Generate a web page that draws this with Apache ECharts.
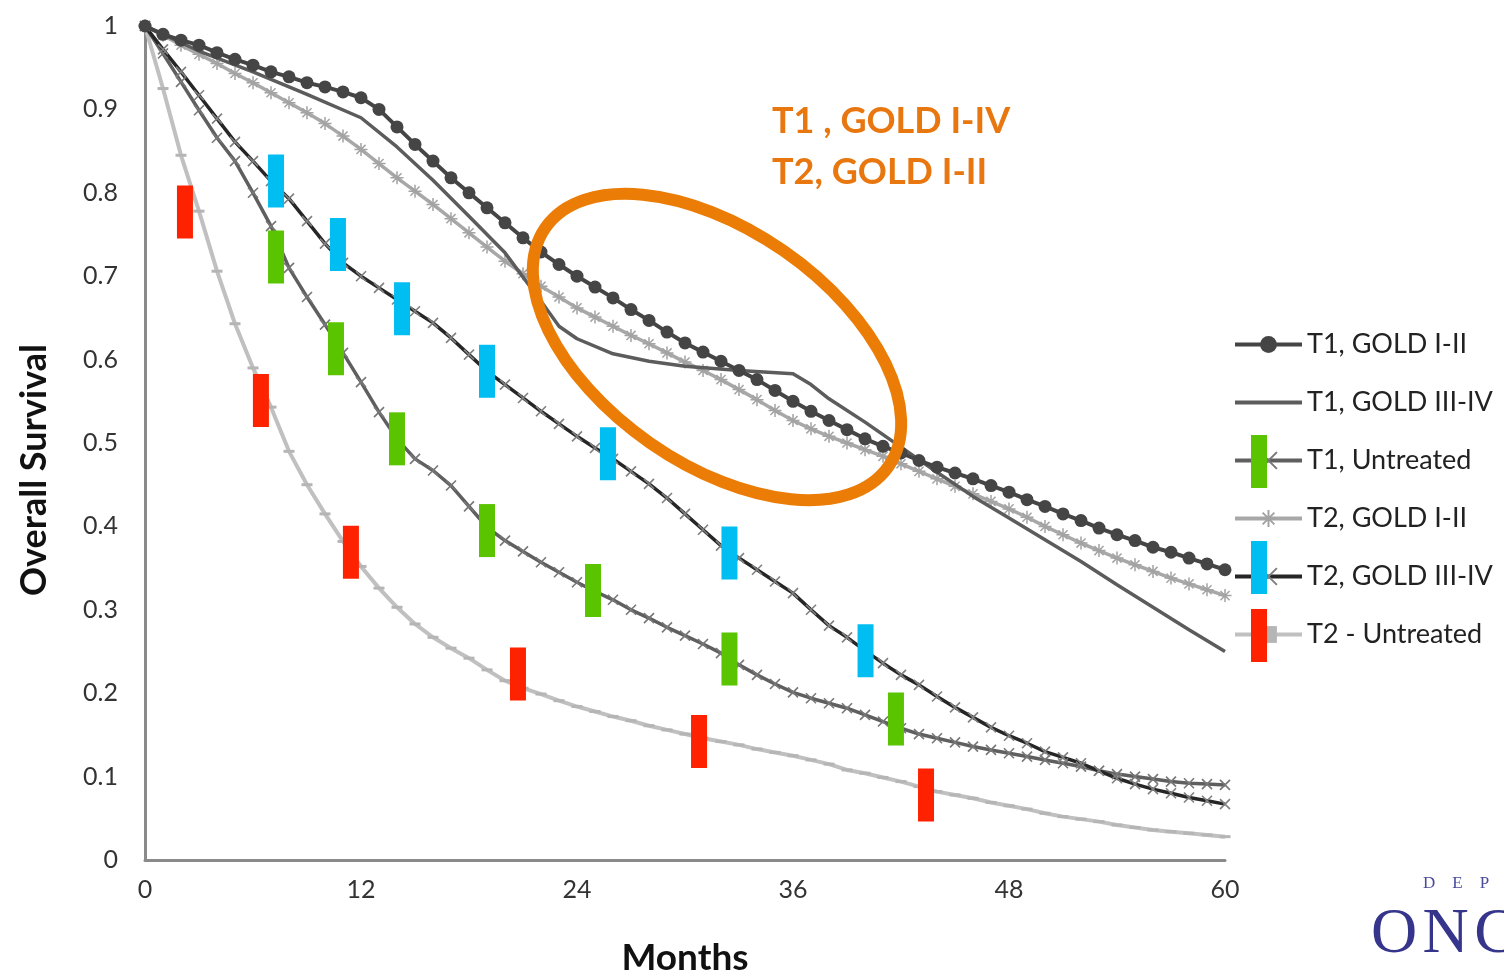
<!DOCTYPE html>
<html><head><meta charset="utf-8">
<script src="https://cdn.jsdelivr.net/npm/echarts@6/dist/echarts.min.js"></script>
<style>html,body{margin:0;padding:0;background:#fff;overflow:hidden}#c{width:1504px;height:971px}</style>
</head><body><div id="c"></div>
<script>
// ---- data ----
const months = [0,1,2,3,4,5,6,7,8,9,10,11,12,13,14,15,16,17,18,19,20,21,22,23,24,25,26,27,28,29,30,31,32,33,34,35,36,37,38,39,40,41,42,43,44,45,46,47,48,49,50,51,52,53,54,55,56,57,58,59,60];
const xTicks = [0,12,24,36,48,60];

const t1Gold12 = [1.000,0.990,0.983,0.977,0.968,0.960,0.953,0.945,0.939,0.932,0.927,0.921,0.914,0.900,0.879,0.858,0.838,0.818,0.800,0.782,0.764,0.746,0.729,0.714,0.700,0.687,0.674,0.660,0.647,0.633,0.620,0.609,0.598,0.587,0.576,0.563,0.550,0.538,0.527,0.516,0.505,0.496,0.488,0.479,0.471,0.464,0.457,0.449,0.441,0.432,0.424,0.415,0.407,0.398,0.390,0.383,0.375,0.369,0.362,0.355,0.348];

const t1Gold34Months = [0,3,6,9,12,14,16,18,20,22,23,24,26,28,30,33,36,37,38,40,42,44,46,48,50,52,54,56,58,60];
const t1Gold34 = [1.000,0.970,0.945,0.918,0.890,0.855,0.815,0.772,0.728,0.670,0.640,0.625,0.607,0.598,0.592,0.587,0.583,0.570,0.553,0.525,0.495,0.465,0.436,0.410,0.384,0.358,0.330,0.303,0.276,0.250];

const t1Untreated = [1.000,0.967,0.933,0.899,0.866,0.838,0.800,0.760,0.710,0.675,0.642,0.608,0.573,0.537,0.505,0.481,0.467,0.449,0.424,0.399,0.383,0.370,0.357,0.345,0.333,0.322,0.312,0.300,0.290,0.279,0.269,0.259,0.248,0.234,0.222,0.211,0.201,0.194,0.188,0.182,0.174,0.166,0.158,0.151,0.146,0.141,0.136,0.132,0.128,0.124,0.120,0.116,0.112,0.107,0.103,0.100,0.097,0.094,0.092,0.091,0.090];

const t2Gold12 = [1.000,0.989,0.977,0.966,0.955,0.943,0.932,0.920,0.908,0.896,0.883,0.868,0.852,0.835,0.818,0.802,0.786,0.769,0.752,0.735,0.718,0.703,0.688,0.675,0.662,0.651,0.640,0.629,0.619,0.608,0.597,0.587,0.576,0.564,0.552,0.539,0.527,0.517,0.508,0.500,0.492,0.484,0.475,0.466,0.457,0.448,0.439,0.430,0.421,0.411,0.400,0.390,0.380,0.371,0.362,0.354,0.346,0.338,0.331,0.324,0.317];

const t2Gold34 = [1.000,0.972,0.945,0.917,0.889,0.861,0.838,0.814,0.793,0.766,0.739,0.716,0.700,0.686,0.672,0.658,0.644,0.626,0.606,0.586,0.570,0.554,0.538,0.523,0.508,0.494,0.481,0.466,0.451,0.434,0.415,0.396,0.377,0.362,0.348,0.334,0.320,0.300,0.281,0.267,0.251,0.236,0.222,0.210,0.196,0.183,0.171,0.159,0.149,0.140,0.130,0.123,0.116,0.107,0.098,0.091,0.085,0.080,0.075,0.071,0.067];

const t2Untreated = [1.000,0.925,0.845,0.778,0.706,0.643,0.590,0.543,0.490,0.450,0.415,0.382,0.352,0.326,0.303,0.283,0.267,0.254,0.242,0.228,0.215,0.206,0.199,0.191,0.184,0.178,0.172,0.167,0.161,0.156,0.151,0.146,0.142,0.138,0.133,0.129,0.125,0.120,0.115,0.108,0.104,0.099,0.094,0.088,0.082,0.078,0.074,0.069,0.065,0.061,0.056,0.052,0.049,0.046,0.042,0.039,0.036,0.034,0.032,0.030,0.028];

// highlight bars placed on the curves (month, survival)
const greenMarkMonths = [7.28,10.61,14.0,19.0,24.89,32.47,41.72];
const greenMarkVals   = [0.723,0.613,0.505,0.395,0.323,0.241,0.169];
const blueMarkMonths  = [7.28,10.72,14.28,19.0,25.72,32.47,40.03];
const blueMarkVals    = [0.814,0.738,0.661,0.586,0.487,0.368,0.251];
const redMarkMonths   = [2.22,6.44,11.44,20.72,30.78,43.39];
const redMarkVals     = [0.777,0.551,0.369,0.223,0.142,0.078];

const seriesNames = ['T1, GOLD I-II','T1, GOLD III-IV','T1, Untreated','T2, GOLD I-II','T2, GOLD III-IV','T2 - Untreated'];

// ---- chart ----
const pair = (xs, ys) => xs.map((x, i) => [x, ys[i]]);
const FONT = 'Lato, "Open Sans", sans-serif';
const X_SYM = 'path://M0,0L10,10M10,0L0,10';
const STAR_SYM = 'path://M5,0L5,10M0,5L10,5M1.5,1.5L8.5,8.5M8.5,1.5L1.5,8.5';

const chart = echarts.init(document.getElementById('c'), null, {renderer: 'canvas'});
chart.setOption({
  animation: false,
  backgroundColor: '#ffffff',
  grid: {left: 145, right: 279, top: 26, bottom: 111, containLabel: false, outerBoundsMode: 'none'},
  xAxis: {
    type: 'value', min: xTicks[0], max: xTicks[xTicks.length - 1], interval: 12,
    axisLine: {show: true, onZero: false, lineStyle: {color: '#8a8a8a', width: 3}},
    axisTick: {show: false}, splitLine: {show: false},
    axisLabel: {fontSize: 25, color: '#333', margin: 17, fontFamily: FONT},
    name: 'Months', nameLocation: 'middle', nameGap: 80,
    nameTextStyle: {fontSize: 37, fontWeight: 'bold', color: '#111', fontFamily: FONT}
  },
  yAxis: {
    type: 'value', min: 0, max: 1, interval: 0.1, offset: 7,
    axisLine: {show: true, lineStyle: {color: '#8a8a8a', width: 3}},
    axisTick: {show: false}, splitLine: {show: false},
    axisLabel: {fontSize: 25, color: '#333', margin: 20, fontFamily: FONT}
  },
  legend: {
    data: seriesNames, orient: 'vertical', left: 1233, top: 331, padding: 0,
    itemWidth: 67, itemHeight: 21, itemGap: 31,
    lineStyle: {width: 4},
    textStyle: {fontSize: 27, color: '#222', fontFamily: FONT}
  },
  series: [
    {name: seriesNames[0], type: 'line', data: pair(months, t1Gold12), z: 6,
     symbol: 'circle', symbolSize: 13, itemStyle: {color: '#454545'},
     lineStyle: {color: '#454545', width: 4}},
    {name: seriesNames[1], type: 'line', data: pair(t1Gold34Months, t1Gold34), z: 5,
     symbol: 'circle', showSymbol: false, itemStyle: {color: 'rgba(0,0,0,0)'},
     lineStyle: {color: '#5c5c5c', width: 3.5}},
    {name: seriesNames[2], type: 'line', data: pair(months, t1Untreated), z: 4,
     symbol: X_SYM, symbolSize: 10,
     itemStyle: {color: 'rgba(0,0,0,0)', borderColor: '#777777', borderWidth: 1.6},
     lineStyle: {color: '#5f5f5f', width: 3.5}},
    {name: seriesNames[3], type: 'line', data: pair(months, t2Gold12), z: 3,
     symbol: STAR_SYM, symbolSize: 13,
     itemStyle: {color: 'rgba(0,0,0,0)', borderColor: '#a3a3a3', borderWidth: 1.5},
     lineStyle: {color: '#a8a8a8', width: 3.5}},
    {name: seriesNames[4], type: 'line', data: pair(months, t2Gold34), z: 4,
     symbol: X_SYM, symbolSize: 10,
     itemStyle: {color: 'rgba(0,0,0,0)', borderColor: '#808080', borderWidth: 1.6},
     lineStyle: {color: '#262626', width: 3.5}},
    {name: seriesNames[5], type: 'line', data: pair(months, t2Untreated), z: 3,
     symbol: 'rect', symbolSize: [11, 3], itemStyle: {color: '#b5b5b5'},
     lineStyle: {color: '#c0c0c0', width: 4}},
    {type: 'scatter', data: pair(greenMarkMonths, greenMarkVals), symbol: 'rect', symbolSize: [16, 53],
     itemStyle: {color: '#5bc400', opacity: 1}, z: 10, silent: true},
    {type: 'scatter', data: pair(blueMarkMonths, blueMarkVals), symbol: 'rect', symbolSize: [16, 53],
     itemStyle: {color: '#00bef2', opacity: 1}, z: 10, silent: true},
    {type: 'scatter', data: pair(redMarkMonths, redMarkVals), symbol: 'rect', symbolSize: [16, 53],
     itemStyle: {color: '#ff2200', opacity: 1}, z: 10, silent: true}
  ],
  graphic: [
    {type: 'text', x: 34, y: 470, rotation: Math.PI / 2, z: 100,
     style: {text: 'Overall Survival', font: 'bold 36px ' + FONT, fill: '#111', align: 'center', verticalAlign: 'middle'}},
    {type: 'rect', shape: {x: 1251, y: 435, width: 16, height: 53}, style: {fill: '#5bc400'}, z: 100},
    {type: 'rect', shape: {x: 1251, y: 541, width: 16, height: 53}, style: {fill: '#00bef2'}, z: 100},
    {type: 'rect', shape: {x: 1251, y: 609, width: 16, height: 53}, style: {fill: '#ff2200'}, z: 100},
    {type: 'ellipse', x: 717, y: 347, rotation: -34.8 * Math.PI / 180,
     shape: {cx: 0, cy: 0, rx: 209, ry: 117},
     style: {fill: 'none', stroke: '#eb7d07', lineWidth: 12}, z: 100},
    {type: 'text', x: 772, y: 121, z: 100,
     style: {text: 'T1 , GOLD I-IV', font: 'bold 36px ' + FONT, fill: '#e8770f', verticalAlign: 'middle'}},
    {type: 'text', x: 772, y: 172, z: 100,
     style: {text: 'T2, GOLD I-II', font: 'bold 36px ' + FONT, fill: '#e8770f', verticalAlign: 'middle'}},
    {type: 'text', x: 1423, y: 884, z: 100,
     style: {text: 'D\u2003E\u2003P\u2003A\u2003R\u2003T', font: '17px "Liberation Serif", serif', fill: '#4a4a9c', verticalAlign: 'middle'}},
    {type: 'text', x: 1371, y: 935, z: 100,
     style: {text: 'O\u200AN\u200AC\u200AO\u200AL\u200AO\u200AG\u200AY', font: '64px "Liberation Serif", serif', fill: '#35358c', verticalAlign: 'middle'}}
  ]
});
</script>
</body></html>
